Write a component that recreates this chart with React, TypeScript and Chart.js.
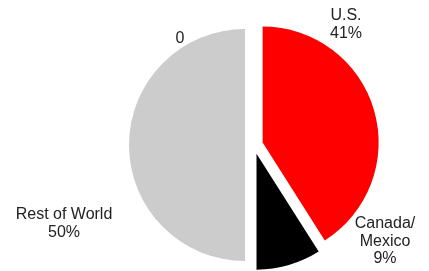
import React, { useEffect, useRef } from "react";
import { Chart, registerables } from "chart.js";

Chart.register(...registerables);

const categories = ["U.S.", "Canada/Mexico", "Rest of World"];
const shares = [41, 9, 50];
const sliceColors = ["#FF0000", "#000000", "#CCCCCC"];
// label text lines per slice (plus the stray "0" label)
const labelLines = [["U.S.", "41%"], ["Canada/", "Mexico", "9%"], ["Rest of World", "50%"], ["0"]];
// label anchor offsets relative to pie centre: [dx, first baseline dy]
const labelAnchors = [[92, -125], [131, 83], [-190, 74], [-74, -102]];
const lineHeight = 17.5;
const explode = 9;

const explodePlugin = {
  id: "explodeSlices",
  beforeDatasetsDraw(chart: any) {
    const ca = chart.chartArea;
    const cx = (ca.left + ca.right) / 2;
    const cy = (ca.top + ca.bottom) / 2;
    chart.getDatasetMeta(0).data.forEach((arc: any) => {
      const mid = (arc.startAngle + arc.endAngle) / 2;
      arc.x = cx + Math.cos(mid) * explode;
      arc.y = cy + Math.sin(mid) * explode;
    });
  },
};

const labelPlugin = {
  id: "sliceLabels",
  afterDraw(chart: any) {
    const ca = chart.chartArea;
    const x = (ca.left + ca.right) / 2;
    const y = (ca.top + ca.bottom) / 2;
    const ctx = chart.ctx;
    ctx.save();
    ctx.font = "16px 'Liberation Sans', Arial, sans-serif";
    ctx.fillStyle = "#222222";
    ctx.textAlign = "center";
    ctx.textBaseline = "alphabetic";
    labelLines.forEach((lines, i) => {
      const [dx, dy] = labelAnchors[i];
      lines.forEach((t, j) => {
        ctx.fillText(t, x + dx, y + dy + j * lineHeight);
      });
    });
    ctx.restore();
  },
};

export default function App() {
  const ref = useRef<HTMLCanvasElement>(null);
  useEffect(() => {
    if (!ref.current) return;
    const chart = new Chart(ref.current, {
      type: "pie",
      data: {
        labels: categories,
        datasets: [
          {
            data: shares,
            backgroundColor: sliceColors,
            borderWidth: 0,
            offset: 0,
            hoverOffset: 0,
            radius: 116,
          } as any,
        ],
      },
      options: {
        animation: false,
        responsive: false,
        layout: { padding: { left: 79, right: 0, top: 19, bottom: 0 } },
        plugins: { legend: { display: false }, tooltip: { enabled: false } },
      },
      plugins: [explodePlugin, labelPlugin],
    });
    return () => chart.destroy();
  }, []);
  return (
    <div style={{ position: "fixed", left: 0, top: 0, width: 429, height: 271, background: "#fff" }}>
      <canvas ref={ref} width={429} height={271} />
    </div>
  );
}
